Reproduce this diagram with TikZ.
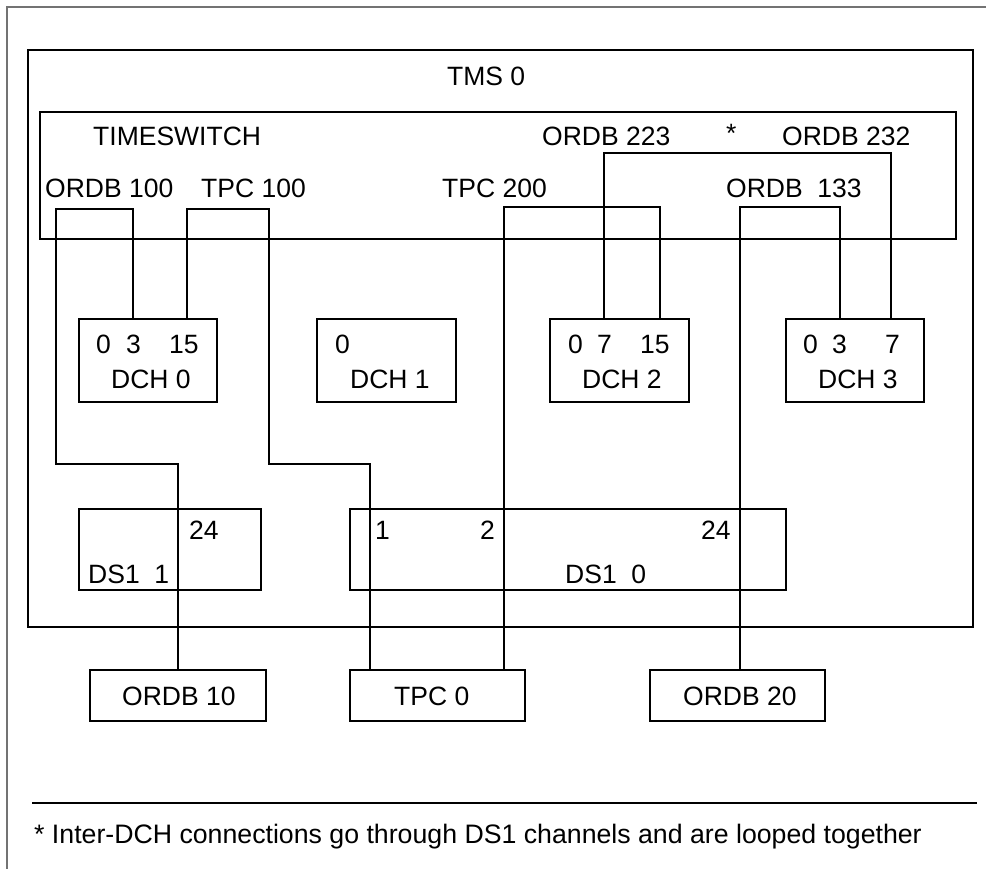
\documentclass[tikz,border=0pt]{standalone}
\usepackage{fontspec}
\setmainfont{Liberation Sans}
\begin{document}
\begin{tikzpicture}[x=1pt,y=-1pt,
  font=\fontsize{26.5}{31}\selectfont,
  box/.style={draw=black, line width=1.7pt, inner sep=0pt},
  conn/.style={draw=black, line width=1.6pt},
  lab/.style={anchor=base west, inner sep=0pt},
  frame/.style={draw=black!55, line width=1.5pt}]
\useasboundingbox (0,0) rectangle (986,869);
% outer frame (top and left)
\draw[frame] (7,869) -- (7,7) -- (986,7);
% main boxes
\node[box, minimum width=945pt, minimum height=577pt] (tms) at (500.5,338.5) {};
\node[box, minimum width=916pt, minimum height=127pt] (ts) at (498,175.5) {};
\node[box, minimum width=138pt, minimum height=83pt] (dch0) at (148,360.5) {};
\node[box, minimum width=139pt, minimum height=83pt] (dch1) at (386.5,360.5) {};
\node[box, minimum width=139pt, minimum height=83pt] (dch2) at (619.5,360.5) {};
\node[box, minimum width=138pt, minimum height=83pt] (dch3) at (855,360.5) {};
\node[box, minimum width=182pt, minimum height=81pt] (ds1) at (170,549.5) {};
\node[box, minimum width=436pt, minimum height=81pt] (ds0) at (568,549.5) {};
\node[box, minimum width=176pt, minimum height=51pt] (o10) at (178,695.5) {};
\node[box, minimum width=175pt, minimum height=51pt] (tpc0) at (437.5,695.5) {};
\node[box, minimum width=175pt, minimum height=51pt] (o20) at (737.5,695.5) {};
% labels
\node[lab] (ltms) at (447,86) {TMS 0};
\node[lab] (lts) at (93,146) {TIMESWITCH};
\node[lab] (l100) at (45,198) {ORDB 100};
\node[lab] (lt100) at (201,198) {TPC 100};
\node[lab] (lt200) at (442,198) {TPC 200};
\node[lab] (l223) at (542,146) {ORDB 223};
\node[lab] (lstar) at (726,143) {*};
\node[lab] (l232) at (782,146) {ORDB 232};
\node[lab] (l133) at (726,198) {ORDB\ \ 133};
% DCH labels
\node[lab] (d0a) at (96,353) {0};
\node[lab] (d0b) at (126,353) {3};
\node[lab] (d0c) at (169,353) {15};
\node[lab] (d0n) at (111,388) {DCH 0};
\node[lab] (d1a) at (335,353) {0};
\node[lab] (d1n) at (350,388) {DCH 1};
\node[lab] (d2a) at (568,353) {0};
\node[lab] (d2b) at (597,353) {7};
\node[lab] (d2c) at (640,353) {15};
\node[lab] (d2n) at (582,388) {DCH 2};
\node[lab] (d3a) at (803,353) {0};
\node[lab] (d3b) at (832,353) {3};
\node[lab] (d3c) at (885,353) {7};
\node[lab] (d3n) at (818,388) {DCH 3};
% DS1 labels
\node[lab] (s1a) at (189,539) {24};
\node[lab] (s1n) at (88,583) {DS1\ \ 1};
\node[lab] (s0a) at (375,539) {1};
\node[lab] (s0b) at (480,539) {2};
\node[lab] (s0c) at (701,539) {24};
\node[lab] (s0n) at (565,583) {DS1\ \ 0};
% bottom labels
\node[lab] (lo10) at (122,705) {ORDB 10};
\node[lab] (ltpc0) at (394,705) {TPC 0};
\node[lab] (lo20) at (683,705) {ORDB 20};
% bend coordinates
\coordinate (a1) at (133,209);
\coordinate (a2) at (56,209);
\coordinate (a3) at (56,464);
\coordinate (b1) at (187,209);
\coordinate (b2) at (269,209);
\coordinate (b3) at (269,464);
\coordinate (b4) at (370,464);
\coordinate (c1) at (504,207);
\coordinate (c2) at (660,207);
\coordinate (d1) at (604,153);
\coordinate (d2) at (891,153);
\coordinate (e1) at (740,207);
\coordinate (e2) at (840,207);
% connectors
\draw[conn] (dch0.north -| a1) -- (a1) -- (a2) -- (a3) -| (o10.north);
\draw[conn] (dch0.north -| b1) -- (b1) -- (b2) -- (b3) -- (b4) -- (tpc0.north -| b4);
\draw[conn] (tpc0.north -| c1) -- (c1) -- (c2) -- (dch2.north -| c2);
\draw[conn] (dch2.north -| d1) -- (d1) -- (d2) -- (dch3.north -| d2);
\draw[conn] (o20.north -| e1) -- (e1) -- (e2) -- (dch3.north -| e2);
% footnote
\coordinate (f1) at (32,803);
\coordinate (f2) at (977,803);
\draw[conn] (f1) -- (f2);
\node[lab, font=\fontsize{26.7}{31}\selectfont] (fn) at (34,843) {* Inter-DCH connections go through DS1 channels and are looped together};
\end{tikzpicture}
\end{document}
